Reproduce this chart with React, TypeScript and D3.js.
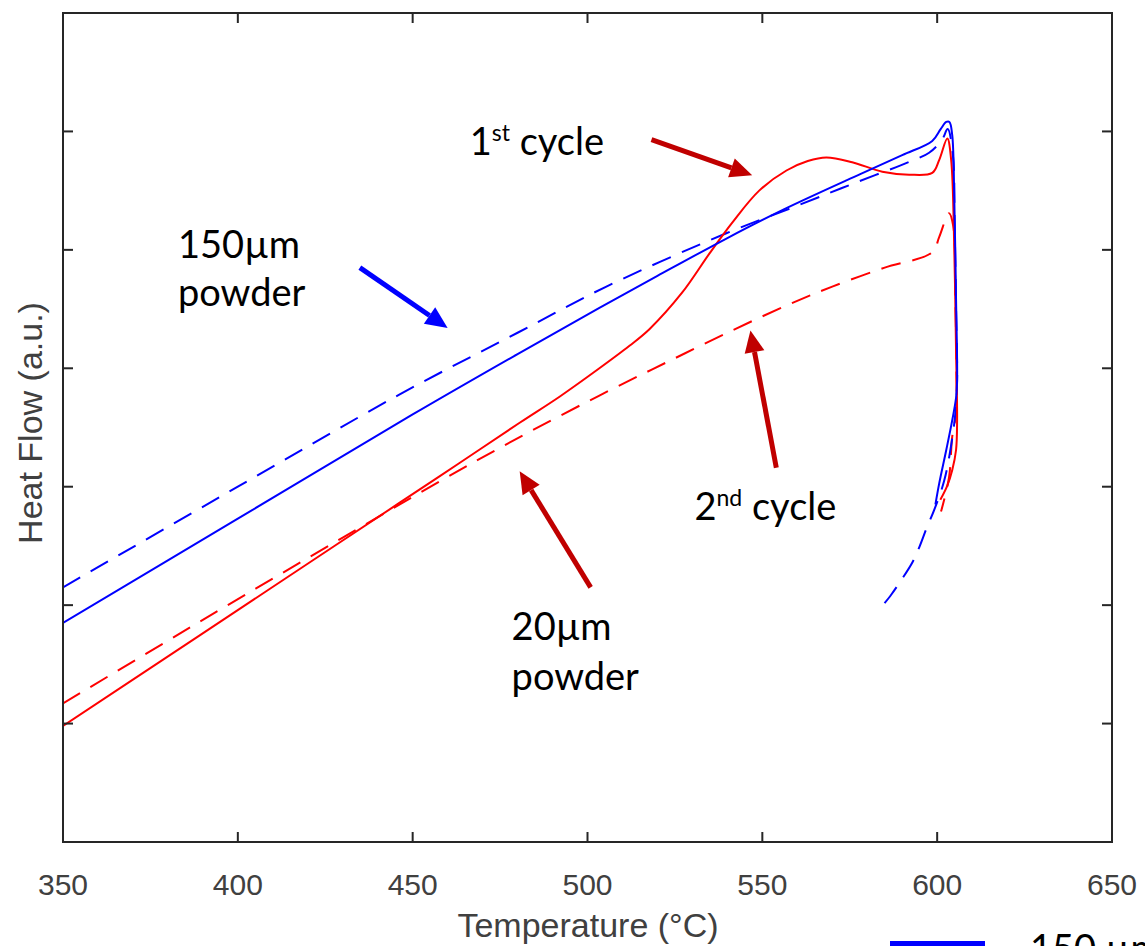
import React from "react";
import * as d3 from "d3";

// ---- data (temperature °C, heat flow a.u.) ----
const xTicks = [350, 400, 450, 500, 550, 600, 650];
const yTicks = [1, 2, 3, 4, 5, 6];

const blueSolid: [number, number][] = [
  [350, 1.85], [400, 2.73], [450, 3.61], [480, 4.12], [503.4, 4.51], [520, 4.78],
  [540, 5.1], [556, 5.34], [578, 5.64], [590, 5.8], [598.6, 5.92], [601, 6.02],
  [602.6, 6.08], [603.5, 6.08], [604.3, 5.97], [604.9, 5.42], [605.4, 4.58], [605.7, 3.9],
  [605.4, 3.75], [604.3, 3.56], [602.6, 3.31], [600.6, 3.03], [599.5, 2.85],
];
const blueDashed: [number, number][] = [
  [350, 2.15], [400, 3.0], [446.3, 3.78], [480, 4.3], [505.4, 4.69], [539.7, 5.14],
  [560.6, 5.38], [576.9, 5.57], [592.6, 5.75], [597.7, 5.82], [601.4, 5.93], [603, 6.02],
  [604.5, 5.8], [605, 5.2], [605.4, 4.5], [605.7, 3.9], [605.3, 3.65], [604, 3.35],
  [602, 3.05], [599.1, 2.8], [597.1, 2.66], [594.9, 2.49], [592.9, 2.36], [589.7, 2.21],
  [586.9, 2.09], [583.4, 1.96],
];
const redSolid: [number, number][] = [
  [350, 0.98], [389.1, 1.745], [417.7, 2.305], [446.3, 2.865], [463.4, 3.2], [480.6, 3.54],
  [492, 3.76], [503.4, 4.0], [512, 4.19], [517.7, 4.33], [527.1, 4.64], [534.9, 4.97],
  [541.4, 5.23], [549.1, 5.5], [556.9, 5.67], [563, 5.75], [568.3, 5.78], [575.7, 5.74],
  [584.3, 5.66], [592, 5.635], [598.6, 5.65], [600.6, 5.76], [602.9, 5.94], [604, 5.76],
  [604.9, 5.0], [605.4, 4.15], [605.7, 3.56], [605.4, 3.31], [604.3, 3.14], [602.9, 3.01],
  [600.9, 2.89],
];
const redDashed: [number, number][] = [
  [350, 1.17], [389.1, 1.86], [430, 2.57], [463.4, 3.14], [482.6, 3.45], [503.4, 3.77],
  [522.6, 4.05], [541.4, 4.32], [557.7, 4.54], [570, 4.69], [585, 4.85], [598.6, 4.98],
  [600.6, 5.11], [603.4, 5.31], [604.6, 5.2], [605.2, 4.6], [605.5, 4.0], [605.4, 3.62],
  [604.3, 3.42], [603.4, 3.08], [601.1, 2.79],
];

// annotation arrows: [tailT, tailV, tipT, tipV]
const arrowBlue = [434.9, 4.85, 460, 4.34];
const arrowCycle1 = [518.3, 5.93, 547.1, 5.63];
const arrowCycle2 = [554, 3.16, 546.6, 4.32];
const arrow20 = [500.9, 2.15, 480.6, 3.13];

const W = 1145;
const H = 946;
const left = 63, right = 1112, top = 13, bottom = 842;

const BLUE = "#0000ff";
const RED = "#ff0000";
const DARKRED = "#c00000";
const AXIS = "#262626";
const ANNOT_FONT = "Lato, 'Open Sans', sans-serif";

export default function App() {
  const x = d3.scaleLinear().domain([350, 650]).range([left, right]);
  const y = d3.scaleLinear().domain([0, 7]).range([bottom, top]);
  const line = d3
    .line<[number, number]>()
    .x((d) => x(d[0]))
    .y((d) => y(d[1]))
    .curve(d3.curveCatmullRom.alpha(0.5));

  const arrow = (a: number[], color: string, key: string) => {
    const x1 = x(a[0]), y1 = y(a[1]), x2 = x(a[2]), y2 = y(a[3]);
    const ang = Math.atan2(y2 - y1, x2 - x1);
    const hl = 22, hw = 10;
    const bx = x2 - hl * Math.cos(ang), by = y2 - hl * Math.sin(ang);
    const px = -Math.sin(ang) * hw, py = Math.cos(ang) * hw;
    return (
      <g key={key}>
        <line x1={x1} y1={y1} x2={bx} y2={by} stroke={color} strokeWidth={5} />
        <polygon
          points={`${x2},${y2} ${bx + px},${by + py} ${bx - px},${by - py}`}
          fill={color}
        />
      </g>
    );
  };

  return (
    <svg
      width={W}
      height={H}
      style={{ position: "absolute", left: 0, top: 0, background: "#fff" }}
    >
      <rect x={0} y={0} width={W} height={H} fill="#fff" />
      <defs>
        <clipPath id="plotclip">
          <rect x={left} y={top} width={right - left} height={bottom - top} />
        </clipPath>
      </defs>

      {/* curves */}
      <g clipPath="url(#plotclip)" fill="none" strokeWidth={2}>
        <path d={line(redDashed) || ""} stroke={RED} strokeDasharray="20,12" />
        <path d={line(blueDashed) || ""} stroke={BLUE} strokeDasharray="20,12" />
        <path d={line(redSolid) || ""} stroke={RED} />
        <path d={line(blueSolid) || ""} stroke={BLUE} />
      </g>

      {/* axes box and ticks */}
      <rect x={left} y={top} width={right - left} height={bottom - top} fill="none" stroke={AXIS} strokeWidth={2} />
      {xTicks.map((t) => (
        <g key={"xt" + t}>
          <line x1={x(t)} x2={x(t)} y1={bottom} y2={bottom - 10} stroke={AXIS} strokeWidth={2} />
          <line x1={x(t)} x2={x(t)} y1={top} y2={top + 10} stroke={AXIS} strokeWidth={2} />
          <text
            x={x(t)}
            y={895}
            textAnchor="middle"
            fontFamily="'Liberation Sans', Arial, sans-serif"
            fontSize={30}
            fill="#404040"
          >
            {t}
          </text>
        </g>
      ))}
      {yTicks.map((t) => (
        <g key={"yt" + t}>
          <line x1={left} x2={left + 10} y1={y(t)} y2={y(t)} stroke={AXIS} strokeWidth={2} />
          <line x1={right} x2={right - 10} y1={y(t)} y2={y(t)} stroke={AXIS} strokeWidth={2} />
        </g>
      ))}
      <text
        x={588}
        y={937}
        textAnchor="middle"
        fontFamily="'Liberation Sans', Arial, sans-serif"
        fontSize={34}
        fill="#404040"
      >
        Temperature (°C)
      </text>
      <text
        transform={`translate(42, 423) rotate(-90)`}
        textAnchor="middle"
        fontFamily="'Liberation Sans', Arial, sans-serif"
        fontSize={34}
        fill="#404040"
      >
        Heat Flow (a.u.)
      </text>

      {/* arrows */}
      {arrow(arrowBlue, BLUE, "ab")}
      {arrow(arrowCycle1, DARKRED, "a1")}
      {arrow(arrowCycle2, DARKRED, "a2")}
      {arrow(arrow20, DARKRED, "a20")}

      {/* annotations */}
      <g fontFamily={ANNOT_FONT} fontSize={38} fill="#000">
        <text x={x(382.9)} y={y(4.93)}>150µm</text>
        <text x={x(382.9)} y={y(4.526)}>powder</text>
        <text x={x(466.3)} y={y(5.8)}>
          1<tspan fontSize={23} dy={-14}>st</tspan>
          <tspan dy={14}> cycle</tspan>
        </text>
        <text x={x(530.6)} y={y(2.72)}>
          2<tspan fontSize={23} dy={-14}>nd</tspan>
          <tspan dy={14}> cycle</tspan>
        </text>
        <text x={x(478.3)} y={y(1.706)}>20µm</text>
        <text x={x(478.3)} y={y(1.283)}>powder</text>
      </g>

      {/* legend (cut off at bottom edge, as in the reference) */}
      <line x1={890} x2={985} y1={944} y2={944} stroke={BLUE} strokeWidth={6} />
      <text x={1030} y={962} fontFamily={ANNOT_FONT} fontSize={38} fill="#000">
        150 µm powder
      </text>
    </svg>
  );
}
